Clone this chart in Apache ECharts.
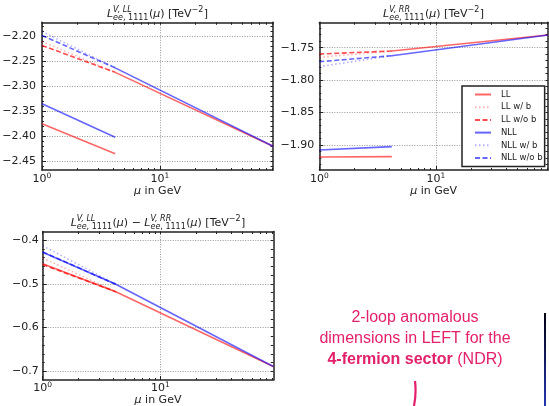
<!DOCTYPE html>
<html>
<head>
<meta charset="utf-8">
<script src="https://cdn.jsdelivr.net/npm/echarts@6/dist/echarts.min.js"></script>
<style>
  html, body { margin: 0; padding: 0; background: #fff; }
  #main { width: 549px; height: 406px; }
</style>
</head>
<body>
<div id="main"></div>
<script>
// scale points in GeV: 1 GeV, m_b, m_Z
var muLow = [1, 4.18];
var muHigh = [4.18, 91.19];
var muFull = [1, 4.18, 91.19];

// L^{V,LL}
var llLL = [-2.375, -2.435];
var llLLup = [-2.272, -2.420];
var llLLwb = [-2.210, -2.272];
var llLLwob = [-2.218, -2.272];
var llNLL = [-2.335, -2.402];
var llNLLup = [-2.263, -2.420];
var llNLLwb = [-2.190, -2.263];
var llNLLwob = [-2.198, -2.263];

// L^{V,RR}
var rrLL = [-1.9185, -1.918];
var rrLLup = [-1.7551, -1.7304];
var rrLLwb = [-1.7648, -1.7551];
var rrLLwob = [-1.7597, -1.7551];
var rrNLL = [-1.9077, -1.9026];
var rrNLLup = [-1.7623, -1.7304];
var rrNLLwb = [-1.7793, -1.7623];
var rrNLLwob = [-1.7716, -1.7623];

// L^{V,LL} - L^{V,RR}
var dLL = [-0.454, -0.518, -0.689];
var dLLwb = [-0.441, -0.518];
var dLLwob = [-0.456, -0.518];
var dNLL = [-0.428, -0.501, -0.689];
var dNLLwb = [-0.413, -0.501];
var dNLLwob = [-0.427, -0.501];

// tick labels
var xMajor = [1, 10];
var xMinor = [2, 3, 4, 5, 6, 7, 8, 9, 20, 30, 40, 50, 60, 70, 80, 90];
var llTicks = [-2.45, -2.40, -2.35, -2.30, -2.25, -2.20];
var rrTicks = [-1.90, -1.85, -1.80, -1.75];
var dTicks = [-0.7, -0.6, -0.5, -0.4];

var names = ['LL', 'LL w/ b', 'LL w/o b', 'NLL', 'NLL w/ b', 'NLL w/o b'];

var FONT = 'DejaVu Sans';
var INK = '#222';

var styles = {
  'LL':        { color: 'rgba(255,0,0,0.6)',  type: 'solid' },
  'LL w/ b':   { color: 'rgba(255,0,0,0.3)',  type: [1.5, 2.5] },
  'LL w/o b':  { color: 'rgba(255,0,0,0.7)',  type: [5, 2.5] },
  'NLL':       { color: 'rgba(0,0,255,0.6)',  type: 'solid' },
  'NLL w/ b':  { color: 'rgba(0,0,255,0.3)',  type: [1.5, 2.5] },
  'NLL w/o b': { color: 'rgba(0,0,255,0.6)',  type: [5, 2.5] }
};

function minorTicks(lo, hi, step, major) {
  var out = [];
  for (var v = lo; v <= hi + 1e-9; v += step) {
    var r = Math.round(v * 1000) / 1000;
    if (Math.abs(r / major - Math.round(r / major)) > 1e-6) out.push(r);
  }
  return out;
}

function line(name, g, mu, vals) {
  var s = styles[name];
  return {
    name: name, type: 'line', xAxisIndex: g * 3, yAxisIndex: g * 3,
    data: mu.map(function (m, i) { return [m, vals[i]]; }),
    symbol: 'none', silent: true,
    lineStyle: { color: s.color, width: 1.6, type: s.type },
    itemStyle: { color: s.color }
  };
}

function xAxes(g, margin) {
  var base = { gridIndex: g, type: 'log', logBase: 10, min: 1, max: 91.19 };
  return [
    Object.assign({}, base, {
      position: 'bottom',
      axisLine: { show: true, onZero: false, lineStyle: { color: INK, width: 1.5 } },
      axisTick: { show: true, inside: true, length: 4, customValues: xMajor, lineStyle: { color: INK } },
      axisLabel: {
        customValues: xMajor, margin: margin, color: INK,
        formatter: function (v) { return '{b|10}{s|' + Math.round(Math.log10(v)) + '}'; },
        rich: {
          b: { fontFamily: FONT, fontSize: 11, color: INK, lineHeight: 15 },
          s: { fontFamily: FONT, fontSize: 7.5, color: INK, verticalAlign: 'top', lineHeight: 15 }
        }
      },
      splitLine: { show: true, lineStyle: { color: '#999', width: 1, type: [1, 1.5] } },
      name: '{i|μ} in GeV', nameLocation: 'middle', nameGap: 15,
      nameTextStyle: {
        fontFamily: FONT, fontSize: 11, color: INK,
        rich: { i: { fontFamily: FONT, fontSize: 11, fontStyle: 'italic', color: INK } }
      }
    }),
    Object.assign({}, base, {
      position: 'bottom',
      axisLine: { show: false, onZero: false },
      axisTick: { show: true, inside: true, length: 2, customValues: xMinor, lineStyle: { color: INK } },
      axisLabel: { show: false },
      splitLine: { show: false }
    }),
    Object.assign({}, base, {
      position: 'top',
      axisLine: { show: true, onZero: false, lineStyle: { color: INK, width: 1.5 } },
      axisTick: { show: true, inside: true, length: 2.5, customValues: xMajor.concat(xMinor), lineStyle: { color: INK } },
      axisLabel: { show: false },
      splitLine: { show: false }
    })
  ];
}

function yAxes(g, min, max, split, ticks, step, major, digits, margin) {
  var base = { gridIndex: g, type: 'value', min: min, max: max, splitNumber: split };
  var minors = minorTicks(ticks[0] - major, ticks[ticks.length - 1] + major, step, major)
    .filter(function (v) { return v > min && v < max; });
  return [
    Object.assign({}, base, {
      position: 'left',
      axisLine: { show: true, lineStyle: { color: INK, width: 1.5 } },
      axisTick: { show: true, inside: true, length: 4, customValues: ticks, lineStyle: { color: INK } },
      axisLabel: {
        customValues: ticks, margin: margin, color: INK, fontFamily: FONT, fontSize: 11,
        formatter: function (v) { return v.toFixed(digits).replace('-', '\u2212'); }
      },
      splitLine: { show: true, lineStyle: { color: '#999', width: 1, type: [1, 1.5] } }
    }),
    Object.assign({}, base, {
      position: 'left',
      axisLine: { show: false },
      axisTick: { show: true, inside: true, length: 2, customValues: minors, lineStyle: { color: INK } },
      axisLabel: { show: false },
      splitLine: { show: false }
    }),
    Object.assign({}, base, {
      position: 'right',
      axisLine: { show: true, lineStyle: { color: INK, width: 1.5 } },
      axisTick: { show: true, inside: true, length: 2.5, customValues: ticks.concat(minors), lineStyle: { color: INK } },
      axisLabel: { show: false },
      splitLine: { show: false }
    })
  ];
}

// math-style titles with stacked super/subscripts
var measure = document.createElement('canvas').getContext('2d');
function tw(t, size, it) {
  measure.font = (it ? 'italic ' : '') + size + 'px "' + FONT + '"';
  return measure.measureText(t).width;
}
function mathTitle(tokens, cx, cy) {
  var MAIN = 11, SCR = 8;
  var total = 0;
  tokens.forEach(function (tk) {
    if (tk.t !== undefined) { tk.w = tw(tk.t, MAIN, tk.it); }
    else {
      var a = 0, b = 0;
      (tk.sup || []).forEach(function (p) { a += tw(p[0], SCR, p[1]); });
      (tk.sub || []).forEach(function (p) { b += tw(p[0], SCR, p[1]); });
      tk.w = Math.max(a, b) + 0.5;
    }
    total += tk.w;
  });
  var x = cx - total / 2;
  var els = [];
  function txt(t, px, py, size, it) {
    els.push({
      type: 'text', x: px, y: py, silent: true,
      style: { text: t, fontFamily: FONT, fontSize: size, fontStyle: it ? 'italic' : 'normal',
               fill: INK, align: 'left', verticalAlign: 'middle' }
    });
  }
  tokens.forEach(function (tk) {
    if (tk.t !== undefined) { txt(tk.t, x, cy, MAIN, tk.it); }
    else {
      var sx = x;
      (tk.sup || []).forEach(function (p) { txt(p[0], sx, cy - 4.5, SCR, p[1]); sx += tw(p[0], SCR, p[1]); });
      sx = x;
      (tk.sub || []).forEach(function (p) { txt(p[0], sx, cy + 4, SCR, p[1]); sx += tw(p[0], SCR, p[1]); });
    }
    x += tk.w;
  });
  return els;
}
function Lsym(sup) {
  return [
    { t: 'L', it: true },
    { sup: [[sup, true]], sub: [['ee', true], [', 1111', false]] },
    { t: '(' }, { t: 'μ', it: true }, { t: ')' }
  ];
}
var tail = [{ t: ' [TeV' }, { sup: [['\u22122', false]] }, { t: ']' }];

var graphics = []
  .concat(mathTitle(Lsym('V, LL').concat(tail), 157.5, 14))
  .concat(mathTitle(Lsym('V, RR').concat(tail), 433.6, 14))
  .concat(mathTitle(Lsym('V, LL').concat([{ t: ' \u2212 ' }]).concat(Lsym('V, RR')).concat(tail), 158, 223));

graphics.push({
  type: 'text', x: 415, y: 339, silent: true,
  style: {
    text: '2-loop anomalous\ndimensions in LEFT for the\n{b|4-fermion sector} (NDR)',
    fontFamily: 'Liberation Sans', fontSize: 16, fill: '#e3206b',
    align: 'center', verticalAlign: 'middle', lineHeight: 21,
    rich: { b: { fontFamily: 'Liberation Sans', fontSize: 16, fontWeight: 'bold', fill: '#e3206b' } }
  }
});
graphics.push({
  type: 'bezierCurve', silent: true,
  shape: { x1: 415, y1: 381, cpx1: 416.5, cpy1: 394, x2: 414, y2: 406 },
  style: { stroke: '#e3206b', lineWidth: 2.2, fill: null }
});
graphics.push({
  type: 'line', silent: true,
  shape: { x1: 545, y1: 313, x2: 545, y2: 406 },
  style: {
    stroke: new echarts.graphic.LinearGradient(0, 313, 0, 406,
      [{ offset: 0, color: '#000010' }, { offset: 1, color: '#2536b0' }], true),
    lineWidth: 2
  }
});

var series = [
  line('LL', 0, muLow, llLL), line('LL', 0, muHigh, llLLup),
  line('LL w/ b', 0, muLow, llLLwb), line('LL w/o b', 0, muLow, llLLwob),
  line('NLL', 0, muLow, llNLL), line('NLL', 0, muHigh, llNLLup),
  line('NLL w/ b', 0, muLow, llNLLwb), line('NLL w/o b', 0, muLow, llNLLwob),

  line('LL', 1, muLow, rrLL), line('LL', 1, muHigh, rrLLup),
  line('LL w/ b', 1, muLow, rrLLwb), line('LL w/o b', 1, muLow, rrLLwob),
  line('NLL', 1, muLow, rrNLL), line('NLL', 1, muHigh, rrNLLup),
  line('NLL w/ b', 1, muLow, rrNLLwb), line('NLL w/o b', 1, muLow, rrNLLwob),

  line('LL', 2, muFull, dLL),
  line('LL w/ b', 2, muLow, dLLwb), line('LL w/o b', 2, muLow, dLLwob),
  line('NLL', 2, muFull, dNLL),
  line('NLL w/ b', 2, muLow, dNLLwb), line('NLL w/o b', 2, muLow, dNLLwob)
];

var chart = echarts.init(document.getElementById('main'), null, { renderer: 'canvas' });
chart.setOption({
  backgroundColor: '#fff',
  animation: false,
  grid: [
    { left: 42, top: 22.3, width: 231, height: 147.7, outerBoundsMode: 'none', containLabel: false },
    { left: 319.3, top: 22.3, width: 228.7, height: 147.7, outerBoundsMode: 'none', containLabel: false },
    { left: 42.7, top: 231.5, width: 230.6, height: 148.5, outerBoundsMode: 'none', containLabel: false }
  ],
  xAxis: xAxes(0, 2).concat(xAxes(1, 2)).concat(xAxes(2, 1)),
  yAxis: yAxes(0, -2.4678, -2.1716, 6, llTicks, 0.01, 0.05, 2, 6)
    .concat(yAxes(1, -1.9386, -1.7108, 5, rrTicks, 0.01, 0.05, 2, 5))
    .concat(yAxes(2, -0.7198, -0.3804, 4, dTicks, 0.02, 0.1, 1, 4)),
  legend: {
    data: names, orient: 'vertical', left: 462, top: 86,
    itemWidth: 16, itemHeight: 10, itemGap: 3.7,
    padding: [4, 2, 4, 12],
    borderColor: INK, borderWidth: 1.5, borderRadius: 0, backgroundColor: '#fff',
    selectedMode: false,
    itemStyle: { opacity: 0 },
    textStyle: { fontFamily: FONT, fontSize: 8.5, color: INK, padding: [0, 0, 0, 5] }
  },
  graphic: graphics,
  series: series
});
</script>
</body>
</html>
